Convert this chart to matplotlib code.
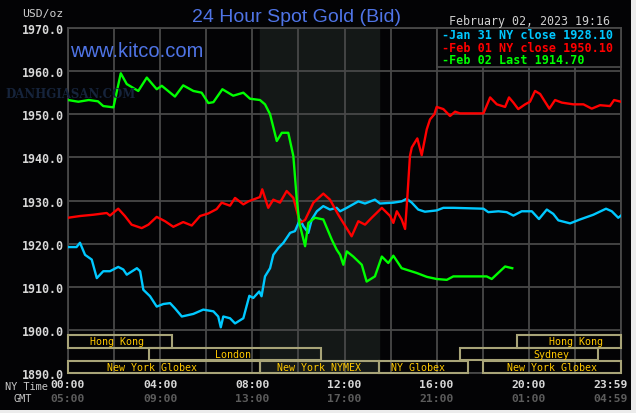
import matplotlib
matplotlib.use("Agg")
import matplotlib.pyplot as plt
from matplotlib.patches import Rectangle
from matplotlib.transforms import blended_transform_factory

# hours after midnight NY time, price in USD/oz
jan31_hours = [0.0, 0.37, 0.52, 0.74, 1.03, 1.25, 1.53, 1.82, 2.18, 2.40, 2.55, 2.99, 3.13,
               3.27, 3.56, 3.85, 4.14, 4.43, 4.64, 4.94, 5.44, 5.87, 6.31, 6.52, 6.63, 6.74,
               7.03, 7.25, 7.61, 7.87, 8.04, 8.30, 8.40, 8.55, 8.77, 8.91, 9.13, 9.35, 9.64,
               9.85, 10.07, 10.22, 10.43, 10.58, 10.80, 11.08, 11.37, 11.66, 11.81, 12.10,
               12.60, 12.89, 13.32, 13.54, 14.12, 14.48, 14.70, 14.92, 15.20, 15.49, 16.00,
               16.29, 16.72, 18.03, 18.24, 18.68, 19.04, 19.33, 19.69, 20.13, 20.44, 20.78,
               21.06, 21.28, 21.79, 22.22, 22.80, 23.35, 23.60, 23.88, 24.0]
jan31_price = [1919.2, 1919.2, 1920.2, 1917.4, 1916.3, 1912.0, 1913.6, 1913.6, 1914.6, 1914.0,
               1912.8, 1914.3, 1913.6, 1909.3, 1907.8, 1905.4, 1906.0, 1906.2, 1905.0, 1903.1,
               1903.7, 1904.7, 1904.3, 1903.1, 1900.6, 1903.1, 1902.7, 1901.5, 1902.7, 1907.9,
               1907.4, 1908.9, 1907.8, 1912.4, 1914.3, 1917.4, 1919.0, 1920.2, 1922.5, 1922.9,
               1925.6, 1924.0, 1922.5, 1925.6, 1927.5, 1928.7, 1927.9, 1928.3, 1927.5, 1928.3,
               1929.8, 1929.3, 1930.2, 1929.3, 1929.5, 1929.8, 1930.4, 1929.5, 1927.9, 1927.4,
               1927.7, 1928.3, 1928.3, 1928.1, 1927.3, 1927.5, 1927.3, 1926.5, 1927.5, 1927.5,
               1925.7, 1927.9, 1926.9, 1925.4, 1924.7, 1925.6, 1926.7, 1928.1, 1927.5, 1926.0,
               1926.5]

feb01_hours = [0.0, 0.52, 1.10, 1.68, 1.82, 2.18, 2.47, 2.76, 3.20, 3.49, 3.85, 4.21, 4.57,
               5.00, 5.37, 5.73, 6.09, 6.45, 6.67, 7.03, 7.25, 7.61, 7.83, 8.33, 8.43, 8.69,
               8.91, 9.20, 9.49, 9.78, 10.07, 10.29, 10.65, 11.08, 11.37, 11.73, 11.81, 12.31,
               12.60, 12.89, 13.18, 13.62, 13.98, 14.12, 14.27, 14.48, 14.63, 14.73, 14.84,
               14.92, 15.16, 15.35, 15.57, 15.71, 15.90, 16.00, 16.29, 16.58, 16.80, 17.01,
               18.03, 18.32, 18.61, 18.97, 19.14, 19.33, 19.54, 19.84, 20.05, 20.27, 20.49,
               20.89, 21.14, 21.43, 21.93, 22.37, 22.73, 23.09, 23.52, 23.70, 24.0]
feb01_price = [1926.0, 1926.4, 1926.7, 1927.1, 1926.5, 1928.1, 1926.4, 1924.4, 1923.6, 1924.4,
               1926.2, 1925.2, 1923.9, 1925.0, 1924.2, 1926.4, 1927.0, 1928.0, 1929.5, 1928.8,
               1930.6, 1929.1, 1929.8, 1930.8, 1932.6, 1928.3, 1930.2, 1929.5, 1932.2, 1930.6,
               1924.8, 1925.5, 1929.5, 1931.6, 1930.2, 1926.7, 1926.0, 1921.7, 1925.2, 1924.4,
               1926.0, 1928.3, 1926.4, 1924.8, 1927.5, 1925.6, 1923.4, 1931.0, 1940.3, 1942.3,
               1944.4, 1940.5, 1946.5, 1948.8, 1950.0, 1951.7, 1951.2, 1949.6, 1950.6, 1950.2,
               1950.2, 1953.9, 1952.3, 1951.7, 1953.9, 1952.7, 1951.2, 1952.3, 1952.9, 1955.4,
               1954.7, 1951.3, 1953.3, 1952.7, 1952.3, 1952.3, 1951.3, 1952.1, 1951.9, 1953.3,
               1952.9]

feb02_hours = [0.0, 0.45, 0.9, 1.3, 1.53, 1.97, 2.29, 2.55, 3.05, 3.42, 3.85, 4.07, 4.64,
               5.00, 5.44, 5.80, 6.09, 6.31, 6.70, 7.17, 7.61, 7.90, 8.33, 8.55, 8.77, 9.06,
               9.28, 9.56, 9.78, 9.93, 10.04, 10.29, 10.43, 10.72, 11.08, 11.45, 11.66, 11.81,
               11.95, 12.10, 12.38, 12.75, 12.96, 13.32, 13.62, 13.90, 14.12, 14.48, 15.13,
               15.57, 16.00, 16.44, 16.72, 18.17, 18.39, 18.97, 19.28]
feb02_price = [1953.3, 1952.9, 1953.3, 1953.0, 1951.9, 1951.6, 1959.5, 1957.0, 1955.4, 1958.5,
               1955.8, 1956.6, 1954.1, 1956.7, 1955.4, 1955.0, 1952.6, 1952.8, 1955.8, 1954.3,
               1955.0, 1953.6, 1953.3, 1952.3, 1950.0, 1943.8, 1945.7, 1945.7, 1940.3, 1930.2,
               1924.8, 1919.4, 1924.8, 1926.0, 1925.6, 1920.9, 1918.6, 1917.4, 1915.1, 1918.2,
               1917.0, 1915.1, 1911.2, 1912.4, 1917.0, 1915.5, 1917.2, 1914.3, 1913.2, 1912.3,
               1911.8, 1911.6, 1912.4, 1912.4, 1911.8, 1914.7, 1914.3]

legend_labels = ["-Jan 31 NY close 1928.10", "-Feb 01 NY close 1950.10", "-Feb 02 Last 1914.70"]

# trading sessions (NY hours); row 0 = top band
session_names = ["Hong Kong", "London", "New York Globex", "New York NYMEX", "NY Globex",
                 "Sydney", "Hong Kong", "New York Globex"]
session_start = [0.0, 3.5, 0.0, 8.33, 13.5, 17.0, 19.5, 18.0]
session_end = [4.5, 11.0, 8.33, 13.5, 17.35, 23.0, 24.0, 24.0]
session_row = [0, 1, 2, 2, 2, 1, 0, 2]
session_label_hour = [2.13, 7.16, 3.65, 10.9, 15.21, 20.96, 22.05, 20.99]

ny_ticks = ["00:00", "04:00", "08:00", "12:00", "16:00", "20:00", "23:59"]
gmt_ticks = ["05:00", "09:00", "13:00", "17:00", "21:00", "01:00", "04:59"]
tick_hours = [0, 4, 8, 12, 16, 20, 23.98]

W, H = 636, 414
MONO = "DejaVu Sans Mono"


def fx(px):
    return px / W


def fy(py):
    return 1 - py / H


fig = plt.figure(figsize=(W / 100, H / 100), dpi=100, facecolor="#ececec")
fig.patches.append(Rectangle((0, fy(411)), fx(631), 411 / H, transform=fig.transFigure,
                             facecolor="#030305", edgecolor="none", zorder=-5))

ax = fig.add_axes([fx(68), fy(374), fx(621) - fx(68), fy(29) - fy(374)])
ax.set_facecolor("#030305")
ax.set_xlim(0, 24)
ax.set_ylim(1890, 1970)

# NYMEX floor session shading
ax.axvspan(8.33, 13.5, color="#141817", zorder=0)

ax.set_xticks(range(0, 25, 2))
ax.set_yticks(range(1890, 1971, 10))
ax.set_yticklabels([f"{v:.1f}" for v in range(1890, 1971, 10)], family=MONO,
                   fontweight="bold", fontsize=8.4, color="#d8d8d8")
ax.tick_params(axis="x", length=0, labelbottom=False)
ax.tick_params(axis="y", length=0, pad=3)
ax.grid(True, color="#484848", lw=1.3, zorder=1)
ax.set_axisbelow(True)
for s in ax.spines.values():
    s.set_color("#484848")
    s.set_linewidth(1.3)

ax.plot(jan31_hours, jan31_price, color="#00c8ff", lw=1.7, zorder=3)
ax.plot(feb01_hours, feb01_price, color="#ff0000", lw=1.7, zorder=3)
ax.plot(feb02_hours, feb02_price, color="#00ff00", lw=1.7, zorder=3)

# session boxes in the 1890-1900 band
row_bottom = [1895.9, 1892.9, 1890.0]
row_h = 2.85
for name, a, b, r, lh in zip(session_names, session_start, session_end, session_row,
                             session_label_hour):
    ax.add_patch(Rectangle((a, row_bottom[r]), b - a, row_h, fill=False, edgecolor="#a8a478",
                           lw=1.5, zorder=4, clip_on=False))
    ax.text(lh, row_bottom[r] + row_h / 2, name, family=MONO, fontsize=7.2, color="#ffc800",
            ha="center", va="center", zorder=5)

# legend box
ax.add_patch(Rectangle(((437 - 68) / 553, 1 - 39 / 345), 1 - (437 - 68) / 553, 39 / 345,
                       transform=ax.transAxes, facecolor="#030305", edgecolor="#484848",
                       lw=1.3, zorder=6, clip_on=False))
for lab, col, py in zip(legend_labels, ["#00c8ff", "#ff0000", "#00ff00"], [36, 48, 61]):
    fig.text(fx(442), fy(py), lab, family=MONO, fontweight="bold", fontsize=8.5, color=col,
             ha="left", va="center", zorder=7)

# x labels: NY time and GMT rows
tr = blended_transform_factory(ax.transData, fig.transFigure)
for h, ny, gmt in zip(tick_hours, ny_ticks, gmt_ticks):
    ha = "right" if h > 23 else "center"
    xx = 24.3 if h > 23 else h
    ax.text(xx, fy(385), ny, transform=tr, family=MONO, fontweight="bold", fontsize=8.2,
            color="#d8d8d8", ha=ha, va="center")
    ax.text(xx, fy(399), gmt, transform=tr, family=MONO, fontweight="bold", fontsize=8.2,
            color="#5c5c5c", ha=ha, va="center")
fig.text(fx(5), fy(387), "NY Time", family=MONO, fontsize=7.4, color="#c8c8c8", va="center")
fig.text(fx(14), fy(399), "GMT", family=MONO, fontsize=7.4, color="#c8c8c8", va="center")

# header texts
fig.text(fx(296), fy(17), "24 Hour Spot Gold (Bid)", family="Liberation Sans", fontsize=14,
         color="#4f74e6", ha="center", va="center")
fig.text(fx(70), fy(57), "www.kitco.com", family="Liberation Sans", fontsize=14.5,
         color="#4f74e6", ha="left", va="baseline", zorder=8)
fig.text(fx(449), fy(22), "February 02, 2023 19:16", family=MONO, fontsize=8.4,
         color="#d0d0d0", ha="left", va="center")
fig.text(fx(22), fy(14), "USD/oz", family=MONO, fontsize=8.2, color="#d0d0d0", va="center")
fig.text(fx(5), fy(95), "DANHGIASAN.COM", family="DejaVu Serif", fontweight="bold",
         fontsize=8.5, color="#16243c", va="center", zorder=1)

fig.savefig("out.png", dpi=100, facecolor=fig.get_facecolor())
